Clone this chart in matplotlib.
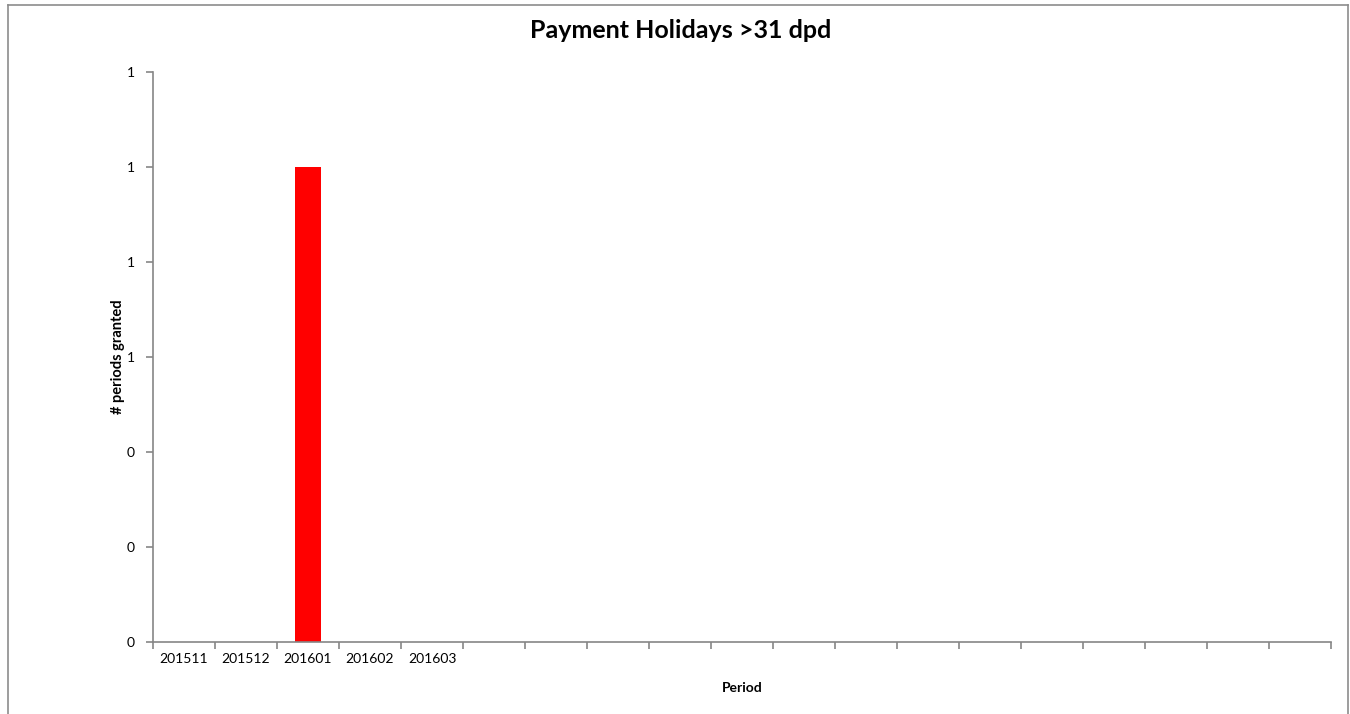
import numpy as np
import matplotlib.pyplot as plt
from matplotlib.lines import Line2D

# Dati
periods = ["201511", "201512", "201601", "201602", "201603"] + [""] * 14
granted = [0, 0, 1, 0, 0] + [np.nan] * 14
yticks = [0, 0.2, 0.4, 0.6, 0.8, 1.0, 1.2]

plt.rcParams['font.family'] = ['Lato', 'DejaVu Sans']

fig = plt.figure(figsize=(13.5, 7.14), dpi=100)
ax = fig.add_axes([153 / 1350, 1 - 642 / 714, (1331 - 153) / 1350, (642 - 72) / 714])

x = np.arange(len(periods))
ax.bar(x, np.nan_to_num(granted), width=0.41, color="#FF0000")

ax.set_xlim(-0.5, len(periods) - 0.5)
ax.set_ylim(0, 1.2)

grey = "#868686"
for s in ["top", "right"]:
    ax.spines[s].set_visible(False)
for s in ["left", "bottom"]:
    ax.spines[s].set_color(grey)
    ax.spines[s].set_linewidth(1.2)

# tick ai confini delle categorie, etichette al centro
ax.set_xticks(np.arange(len(periods) + 1) - 0.5)
ax.set_xticklabels([])
ax.set_xticks(x, minor=True)
ax.set_xticklabels(periods, minor=True)
ax.tick_params(axis="x", which="major", direction="out", length=5, color=grey, width=1.2)
ax.tick_params(axis="x", which="minor", length=0, pad=8, labelsize=10)

ax.set_yticks(yticks)
ax.set_yticklabels(["%.0f" % v for v in yticks])
ax.tick_params(axis="y", direction="out", length=5, color=grey, width=1.2, pad=8, labelsize=10)

ax.set_xlabel("Period", fontsize=10, fontweight="bold", labelpad=12)
ax.set_ylabel("# periods granted", fontsize=10.5, fontweight="bold", labelpad=1)

fig.text(0.504, 1 - 30 / 714, "Payment Holidays >31 dpd", ha="center", va="center",
         fontsize=18, fontweight="bold")

# bordo del grafico
bx0, bx1, by1 = 8 / 1350, 1348 / 1350, 1 - 5 / 714
for xs, ys in [([bx0, bx0], [0, by1]), ([bx0, bx1], [by1, by1]), ([bx1, bx1], [by1, 0])]:
    fig.add_artist(Line2D(xs, ys, transform=fig.transFigure, color="#8C8C8C", lw=1.2))

fig.savefig("out.png", dpi=100)
